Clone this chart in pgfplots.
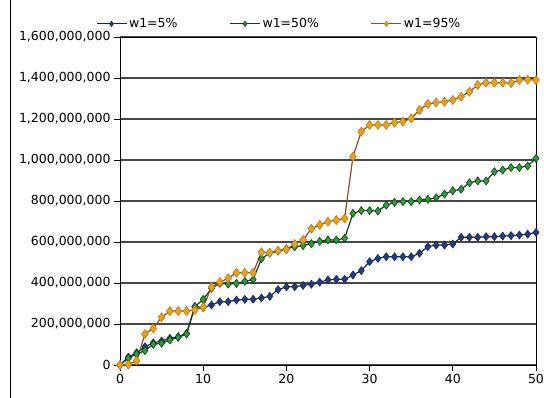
\documentclass[border=0pt]{standalone}
\usepackage{fontspec}
\setmainfont{DejaVu Sans}
\usepackage{pgfplots}
\usepackage{pgfplotstable}
\pgfplotsset{compat=1.18}

\definecolor{navyline}{HTML}{1A2848}
\definecolor{navymark}{HTML}{1F3C88}
\definecolor{greenline}{HTML}{163D1A}
\definecolor{greenmark}{HTML}{2E9E3A}
\definecolor{greenedge}{HTML}{0E3B12}
\definecolor{goldline}{HTML}{8B4A2B}
\definecolor{goldmark}{HTML}{E8A21C}
\definecolor{goldedge}{HTML}{C07A10}

% cumulative totals in millions, one column per weight
\pgfplotstableread{
x  a    b     c
0  0    0     0
1  38   33    2
2  60   54    21
3  89   70    151
4  108  101   179
5  117  106   233
6  130  122   263
7  138  135   263
8  154  151   263
9  285  285   268
10 280  320   283
11 293  374   380
12 309  398   404
13 309  395   423
14 317  398   450
15 320  408   450
16 321  417   450
17 327  518   550
18 335  546   548
19 368  555   558
20 381  567   564
21 382  577   590
22 388  582   610
23 394  592   665
24 404  603   683
25 415  610   699
26 418  610   707
27 418  618   715
28 439  740   1016
29 460  753   1138
30 504  753   1171
31 520  751   1171
32 528  780   1171
33 528  793   1182
34 528  797   1187
35 528  797   1203
36 545  805   1244
37 577  808   1273
38 585  816   1280
39 585  834   1284
40 590  850   1293
41 623  857   1309
42 623  889   1333
43 623  898   1366
44 626  898   1377
45 626  943   1377
46 629  951   1377
47 631  963   1375
48 634  963   1390
49 638  971   1392
50 647  1008  1390
}\cumdata

\begin{document}
\begin{tikzpicture}
\path[use as bounding box] (0,0) rectangle (544bp,398bp);
\draw[line width=0.8bp] (10.5bp,0) -- (10.5bp,398bp);
\begin{axis}[
  at={(120bp,33bp)}, anchor=south west,
  scale only axis, width=416bp, height=328bp,
  xmin=0, xmax=50, ymin=0, ymax=1600,
  xtick={0,10,...,50},
  ytick={0,200,...,1600},
  yticklabels={0,{200,000,000},{400,000,000},{600,000,000},{800,000,000},{1,000,000,000},{1,200,000,000},{1,400,000,000},{1,600,000,000}},
  /pgf/number format/assume math mode=true,
  ticklabel style={font=\fontsize{12.5bp}{14bp}\selectfont, text=black},
  ymajorgrids,
  grid style={draw=black!72, line width=1.1bp},
  axis line style={line width=0.9bp},
  tick align=outside, tick pos=left,
  major tick length=6bp,
  tick style={line width=0.8bp, black},
  legend columns=3,
  legend style={at={(-0.058,1.04)}, anchor=west, draw=none, fill=none,
    inner sep=0pt, font=\fontsize{12.5bp}{14bp}\selectfont,
    /tikz/every even column/.append style={column sep=50bp}},
  legend image code/.code={\draw[mark repeat=2,mark phase=2,#1,line width=1bp,mark size=2.6bp] plot coordinates {(0bp,0bp)(15bp,0bp)(30bp,0bp)};},
]
\addplot[color=navyline, line width=1.2bp, mark=diamond*, mark size=4bp,
  mark options={fill=navymark, draw=navyline, line width=0.6bp}]
  table[x=x, y=a]{\cumdata};
\addlegendentry{w1=5\%}
\addplot[color=greenline, line width=1.2bp, mark=diamond*, mark size=4bp,
  mark options={fill=greenmark, draw=greenedge, line width=0.6bp}]
  table[x=x, y=b]{\cumdata};
\addlegendentry{w1=50\%}
\addplot[color=goldline, line width=1.2bp, mark=diamond*, mark size=4.5bp,
  mark options={fill=goldmark, draw=goldedge, line width=0.6bp}]
  table[x=x, y=c]{\cumdata};
\addlegendentry{w1=95\%}
\end{axis}
\end{tikzpicture}
\end{document}
